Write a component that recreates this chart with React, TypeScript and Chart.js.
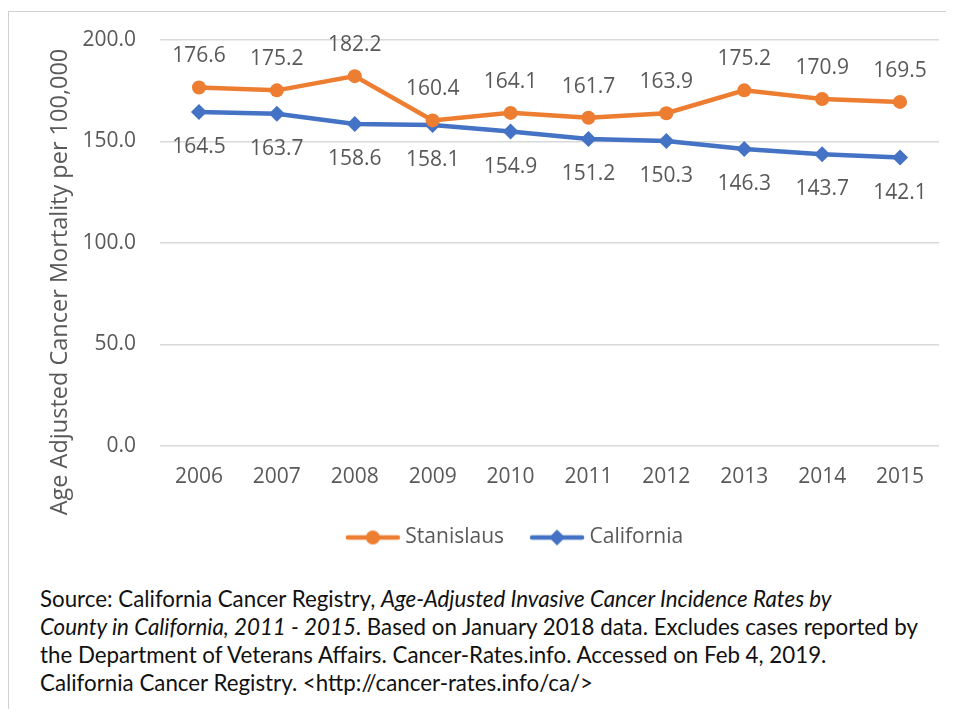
import React, { useEffect, useLayoutEffect, useRef } from "react";
import { Chart, registerables } from "chart.js";

Chart.register(...registerables);

const years = ["2006", "2007", "2008", "2009", "2010", "2011", "2012", "2013", "2014", "2015"];
const stanislaus = [176.6, 175.2, 182.2, 160.4, 164.1, 161.7, 163.9, 175.2, 170.9, 169.5];
const california = [164.5, 163.7, 158.6, 158.1, 154.9, 151.2, 150.3, 146.3, 143.7, 142.1];
const yTickValues = [0, 50, 100, 150, 200];
const yTitle = "Age Adjusted Cancer Mortality per 100,000";

const ORANGE = "#ED7D31";
const BLUE = "#4472C4";
const TEXT = "#595959";
const FONT = "'Open Sans', sans-serif";

function legendSample(color: string, style: "circle" | "diamond"): HTMLCanvasElement {
  const c = document.createElement("canvas");
  c.width = 56;
  c.height = 18;
  const ctx = c.getContext("2d")!;
  ctx.strokeStyle = color;
  ctx.fillStyle = color;
  ctx.lineWidth = 4.5;
  ctx.lineCap = "round";
  ctx.beginPath();
  ctx.moveTo(3, 9);
  ctx.lineTo(53, 9);
  ctx.stroke();
  ctx.beginPath();
  if (style === "circle") {
    ctx.arc(28, 9, 7, 0, Math.PI * 2);
  } else {
    ctx.moveTo(28, 1);
    ctx.lineTo(36, 9);
    ctx.lineTo(28, 17);
    ctx.lineTo(20, 9);
    ctx.closePath();
  }
  ctx.fill();
  return c;
}

const dataLabels = {
  id: "dataLabels",
  afterDatasetsDraw(chart: any) {
    const ctx = chart.ctx;
    ctx.save();
    ctx.font = `21px ${FONT}`;
    ctx.fillStyle = TEXT;
    ctx.textAlign = "center";
    ctx.textBaseline = "middle";
    chart.data.datasets.forEach((ds: any, i: number) => {
      const meta = chart.getDatasetMeta(i);
      const off = i === 0 ? -31 : 35;
      meta.data.forEach((el: any, j: number) => {
        ctx.fillText(Number(ds.data[j]).toFixed(1), el.x, el.y + off);
      });
    });
    ctx.restore();
  },
};

const yTitlePlugin = {
  id: "yTitlePlugin",
  afterDraw(chart: any) {
    const { ctx, chartArea } = chart;
    ctx.save();
    ctx.translate(chartArea.left - 100, (chartArea.top + chartArea.bottom) / 2 + 39);
    ctx.rotate(-Math.PI / 2);
    ctx.font = `23.5px ${FONT}`;
    ctx.fillStyle = TEXT;
    ctx.textAlign = "center";
    ctx.textBaseline = "middle";
    ctx.fillText(yTitle, 0, 0);
    ctx.restore();
  },
};

const legendShift = {
  id: "legendShift",
  afterLayout(chart: any) {
    const l = chart.legend;
    if (l) {
      l.left += 8;
      l.right += 8;
    }
  },
};

function LineChart() {
  const ref = useRef<HTMLCanvasElement>(null);
  useEffect(() => {
    if (!ref.current) return;
    const samples = [legendSample(ORANGE, "circle"), legendSample(BLUE, "diamond")];
    const chart = new Chart(ref.current, {
      type: "line",
      data: {
        labels: years,
        datasets: [
          {
            label: "Stanislaus",
            data: stanislaus,
            borderColor: ORANGE,
            backgroundColor: ORANGE,
            borderWidth: 4.5,
            pointStyle: "circle",
            pointRadius: 7,
            pointBorderWidth: 0,
            tension: 0,
          },
          {
            label: "California",
            data: california,
            borderColor: BLUE,
            backgroundColor: BLUE,
            borderWidth: 4.5,
            pointStyle: "rectRot",
            pointRadius: 8,
            pointBorderWidth: 0,
            tension: 0,
          },
        ],
      },
      options: {
        responsive: false,
        animation: false,
        layout: { padding: { left: 70, right: 15, top: 28, bottom: 0 } },
        plugins: {
          tooltip: { enabled: false },
          legend: {
            position: "bottom",
            labels: {
              usePointStyle: true,
              pointStyleWidth: 44,
              padding: 31,
              color: TEXT,
              font: { family: FONT, size: 21 },
              generateLabels: (c: any) =>
                c.data.datasets.map((ds: any, i: number) => ({
                  text: ds.label,
                  fillStyle: ds.backgroundColor,
                  strokeStyle: ds.borderColor,
                  lineWidth: 0,
                  pointStyle: samples[i],
                  fontColor: TEXT,
                  hidden: false,
                  datasetIndex: i,
                })),
            },
          },
        },
        scales: {
          x: {
            offset: true,
            grid: { display: false, drawTicks: false },
            border: { display: false },
            ticks: { color: TEXT, font: { family: FONT, size: 21 }, padding: 18 },
            afterFit: (s: any) => {
              s.height = 50;
            },
          },
          y: {
            min: 0,
            max: 200,
            afterBuildTicks: (s: any) => {
              s.ticks = yTickValues.map((v) => ({ value: v }));
            },
            grid: {
              color: "#D9D9D9",
              lineWidth: 1.5,
              drawTicks: true,
              tickLength: 24,
              tickColor: "rgba(0,0,0,0)",
            },
            border: { display: false },
            ticks: {
              color: TEXT,
              font: { family: FONT, size: 21 },
              padding: 0,
              callback: (v: any) => Number(v).toFixed(1),
            },
            afterFit: (s: any) => {
              s.width = 81;
            },
          },
        },
      },
      plugins: [dataLabels, yTitlePlugin, legendShift],
    });
    return () => chart.destroy();
  }, []);
  return <canvas ref={ref} width={945} height={546} style={{ position: "absolute", left: 0, top: 0 }} />;
}

function SourceNote() {
  const boxRef = useRef<HTMLDivElement>(null);
  const line2Ref = useRef<HTMLSpanElement>(null);
  useLayoutEffect(() => {
    if (!boxRef.current || !line2Ref.current) return;
    const w = line2Ref.current.getBoundingClientRect().width;
    if (w > 0) boxRef.current.style.transform = `scaleX(${878 / w})`;
  }, []);
  const lineStyle: React.CSSProperties = { height: 28, lineHeight: "28px", whiteSpace: "nowrap" };
  return (
    <div
      ref={boxRef}
      style={{
        position: "absolute",
        left: 31,
        top: 572,
        fontFamily: "Lato, sans-serif",
        fontSize: 23,
        color: "#111",
        transformOrigin: "0 0",
      }}
    >
      <div style={lineStyle}>
        Source: California Cancer Registry, <i>Age-Adjusted Invasive Cancer Incidence Rates by</i>
      </div>
      <div style={lineStyle}>
        <span ref={line2Ref}>
          <i>County in California, 2011 - 2015</i>. Based on January 2018 data. Excludes cases reported by
        </span>
      </div>
      <div style={lineStyle}>the Department of Veterans Affairs. Cancer-Rates.info. Accessed on Feb 4, 2019.</div>
      <div style={lineStyle}>California Cancer Registry. &lt;http://cancer-rates.info/ca/&gt;</div>
    </div>
  );
}

export default function App() {
  return (
    <div
      style={{
        position: "relative",
        width: 946,
        height: 698,
        marginTop: 3,
        borderTop: "1px solid #D0D0D0",
        borderLeft: "1px solid #D0D0D0",
        boxSizing: "border-box",
        overflow: "hidden",
      }}
    >
      <LineChart />
      <SourceNote />
    </div>
  );
}
